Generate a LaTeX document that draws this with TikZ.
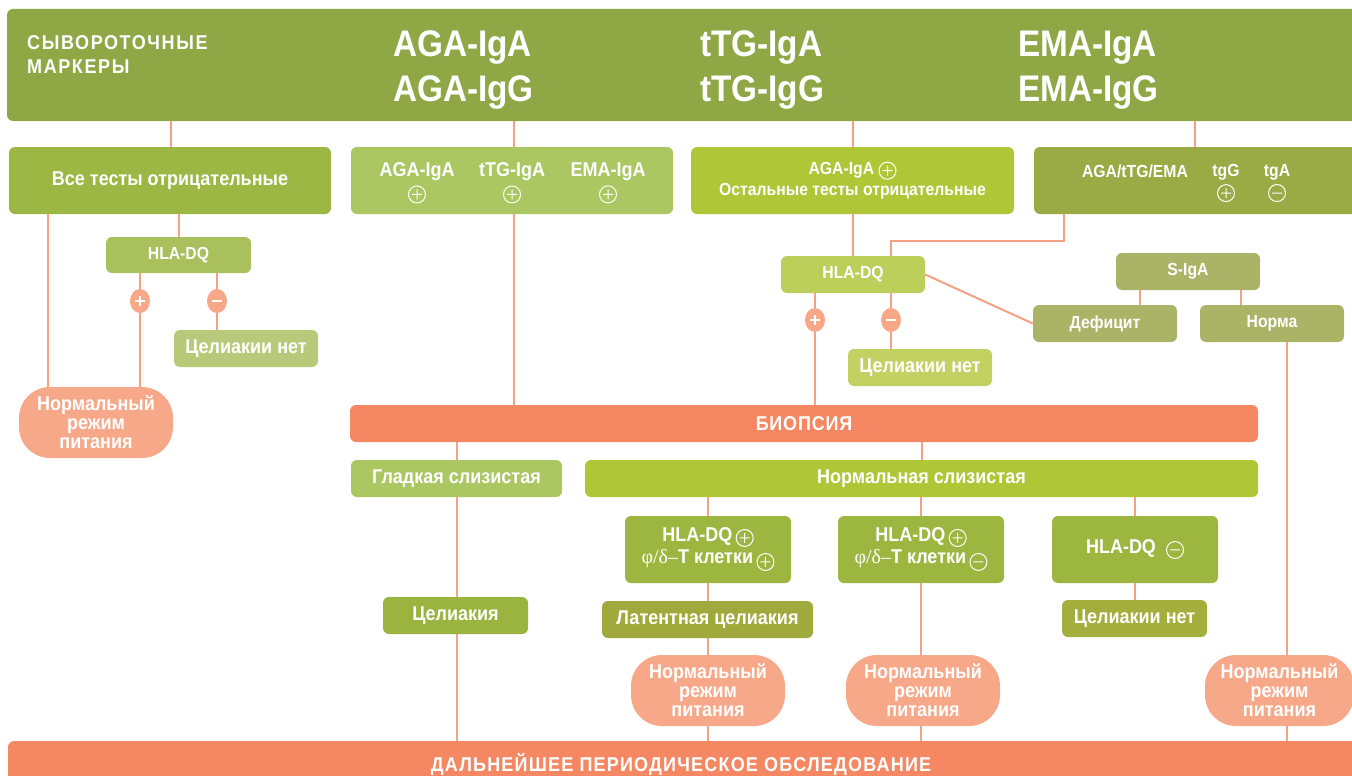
\documentclass[tikz,border=0pt]{standalone}
\usepackage{fontspec}
\setmainfont{Liberation Sans}[FakeStretch=0.9]
\newfontfamily\grserif{Liberation Serif}
\usetikzlibrary{shapes.geometric}
\pgfdeclarelayer{bg}
\pgfsetlayers{bg,main}
\definecolor{hdrC}{HTML}{8FA845}
\definecolor{bAllneg}{HTML}{9CB744}
\definecolor{bLight}{HTML}{AAC762}
\definecolor{bYel}{HTML}{AFC637}
\definecolor{bOlive}{HTML}{9AAA45}
\definecolor{hlaOne}{HTML}{A9C05D}
\definecolor{noOne}{HTML}{B7CA79}
\definecolor{hlaTwo}{HTML}{BCCF5B}
\definecolor{noTwo}{HTML}{C3D162}
\definecolor{sigaC}{HTML}{ABB466}
\definecolor{ovalC}{HTML}{F6A888}
\definecolor{lineC}{HTML}{F4A283}
\definecolor{bioC}{HTML}{F58862}
\definecolor{midC}{HTML}{9DB63F}
\definecolor{celC}{HTML}{9AB43F}
\definecolor{latC}{HTML}{A0AA3C}
\definecolor{noThree}{HTML}{A3AE3C}
\newcommand\fB{\fontsize{20}{23}\selectfont\bfseries}
\newcommand\fS{\fontsize{17.5}{22}\selectfont\bfseries}
\newcommand\cplus{\tikz[baseline=-4pt]{\draw[white,line width=1pt] (0pt,0pt) circle (8.5pt) (-5pt,0pt)--(5pt,0pt) (0pt,-5pt)--(0pt,5pt);}}
\newcommand\cminus{\tikz[baseline=-4pt]{\draw[white,line width=1pt] (0pt,0pt) circle (8.5pt) (-5pt,0pt)--(5pt,0pt);}}
\newcommand\splus{\tikz{\draw[white,line width=1.2pt] (-5pt,0pt)--(5pt,0pt) (0pt,-5pt)--(0pt,5pt);}}
\newcommand\sminus{\tikz{\draw[white,line width=2pt] (-5pt,0pt)--(5pt,0pt);}}
\newcommand\mkbox[8][]{\node[box,fill=#3,minimum width={#6-#4},minimum height={#7-#5},#1] (#2) at ({(#4+#6)/2},{(#5+#7)/2}) {#8};}
\newcommand\mkoval[5]{\node[oval,minimum width={#4-#2},minimum height={#5-#3}] (#1) at ({(#2+#4)/2},{(#3+#5)/2}) {Нормальный\\режим\\питания};}
\tikzset{
  box/.style={rectangle,rounded corners=6pt,inner sep=0pt,text=white,font=\fB,align=center},
  oval/.style={rectangle,rounded corners=31pt,fill=ovalC,inner sep=0pt,text=white,align=center,font=\fontsize{20}{19}\selectfont\bfseries},
  sign/.style={ellipse,fill=ovalC,inner sep=0pt,minimum width=20pt,minimum height=24pt},
  con/.style={draw=lineC,line width=2pt},
  htxt/.style={text=white,inner sep=0pt,anchor=base west,font=\fontsize{37}{40}\selectfont\bfseries},
  ltxt/.style={text=white,inner sep=0pt,align=center}
}
\begin{document}
\begin{tikzpicture}[x=1pt,y=-1pt]
\useasboundingbox (0,0) rectangle (1352,776);
\clip (0,0) rectangle (1352,776);
% header
\mkbox{hdr}{hdrC}{7}{9}{1365}{121}{}
\node[htxt,font=\fontsize{20}{24}\selectfont\bfseries\addfontfeature{LetterSpace=8}] (sm1) at (27,50) {СЫВОРОТОЧНЫЕ};
\node[htxt,font=\fontsize{20}{24}\selectfont\bfseries\addfontfeature{LetterSpace=8}] (sm2) at (27,74) {МАРКЕРЫ};
\node[htxt] (hA1) at (393,57) {AGA-IgA};
\node[htxt] (hA2) at (393,102) {AGA-IgG};
\node[htxt] (hT1) at (700,57) {tTG-IgA};
\node[htxt] (hT2) at (700,102) {tTG-IgG};
\node[htxt] (hE1) at (1018,57) {EMA-IgA};
\node[htxt] (hE2) at (1018,102) {EMA-IgG};
% first row
\mkbox{b1}{bAllneg}{9}{147}{331}{214}{Все тесты отрицательные}
\mkbox{b2}{bLight}{351}{147}{673}{214}{}
\node[ltxt,font=\fB] (b2a) at (417,183) {AGA-IgA\\[-1pt]\cplus};
\node[ltxt,font=\fB] (b2b) at (512,183) {tTG-IgA\\[-1pt]\cplus};
\node[ltxt,font=\fB] (b2c) at (608,183) {EMA-IgA\\[-1pt]\cplus};
\mkbox[font=\fS]{b3}{bYel}{691}{147}{1014}{214}{AGA-IgA \cplus\\[-1pt]Остальные тесты отрицательные}
\mkbox{b4}{bOlive}{1034}{147}{1365}{214}{}
\node[ltxt,font=\fS,anchor=base] (b4a) at (1135,177) {AGA/tTG/EMA};
\node[ltxt,font=\fS] (b4b) at (1226,183) {tgG\\[-1pt]\cplus};
\node[ltxt,font=\fS] (b4c) at (1277,183) {tgA\\[-1pt]\cminus};
% left branch
\mkbox[font=\fS]{hla1}{hlaOne}{106}{237}{251}{273}{HLA-DQ}
\node[sign] (p1) at (140,301) {\splus};
\node[sign] (m1) at (217,301) {\sminus};
\mkbox{no1}{noOne}{174}{330}{318}{367}{Целиакии нет}
\mkoval{ell1}{19}{387}{173}{458}
% right upper
\mkbox[font=\fS]{hla2}{hlaTwo}{781}{256}{925}{293}{HLA-DQ}
\node[sign] (p2) at (815,320) {\splus};
\node[sign] (m2) at (891,320) {\sminus};
\mkbox{no2}{noTwo}{848}{349}{992}{386}{Целиакии нет}
\mkbox[font=\fS]{siga}{sigaC}{1116}{253}{1260}{290}{S-IgA}
\mkbox[font=\fS]{def}{sigaC}{1033}{305}{1177}{342}{Дефицит}
\mkbox[font=\fS]{norm}{sigaC}{1200}{305}{1344}{342}{Норма}
\coordinate (k1) at (1064,241);
\coordinate (k2) at (891,241);
% biopsy
\mkbox[font=\fB\addfontfeature{LetterSpace=4}]{bio}{bioC}{350}{405}{1258}{442}{БИОПСИЯ}
\mkbox{smooth}{bLight}{351}{460}{562}{497}{Гладкая слизистая}
\mkbox{normuc}{bYel}{585}{460}{1258}{497}{Нормальная слизистая}
\mkbox{cel}{celC}{383}{597}{528}{634}{Целиакия}
\mkbox{bA}{midC}{625}{516}{791}{583}{HLA-DQ\,\cplus\\[-1pt]{\grserif\mdseries φ/δ–}T клетки\,\raisebox{-2pt}{\cplus}}
\mkbox{bB}{midC}{838}{516}{1004}{583}{HLA-DQ\,\cplus\\[-1pt]{\grserif\mdseries φ/δ–}T клетки\,\raisebox{-2pt}{\cminus}}
\mkbox{bC}{midC}{1052}{516}{1218}{583}{HLA-DQ \ \cminus}
\mkbox{lat}{latC}{602}{601}{813}{638}{Латентная целиакия}
\mkbox{no3}{noThree}{1062}{600}{1207}{637}{Целиакии нет}
\mkoval{ellA}{631}{655}{785}{726}
\mkoval{ellB}{846}{655}{1000}{726}
\mkoval{ellC}{1205}{655}{1354}{726}
% final
\mkbox{final}{bioC}{8}{741}{1365}{795}{}
\node[ltxt,anchor=base,font=\fB\addfontfeature{LetterSpace=6}] (fintxt) at (681,771) {ДАЛЬНЕЙШЕЕ ПЕРИОДИЧЕСКОЕ ОБСЛЕДОВАНИЕ};
% connectors
\begin{pgfonlayer}{bg}
\draw[con] (hdr -| 171,0) -- (b1 -| 171,0);
\draw[con] (hdr -| 514,0) -- (b2 -| 514,0) -- (bio -| 514,0);
\draw[con] (hdr -| 853,0) -- (b3 -| 853,0) -- (hla2 -| 853,0);
\draw[con] (hdr -| 1195,0) -- (b4 -| 1195,0);
\draw[con] (b4 -| k1) -- (k1) -- (k2) -- (hla2 -| k2);
\draw[con] (b1 -| 48,0) -- (ell1 -| 48,0);
\draw[con] (b1 -| 179,0) -- (hla1 -| 179,0);
\draw[con] (hla1 -| p1) -- (p1) -- (ell1 -| p1);
\draw[con] (hla1 -| m1) -- (m1) -- (no1 -| m1);
\draw[con] (hla2 -| p2) -- (p2) -- (bio -| p2);
\draw[con] (hla2 -| m2) -- (m2) -- (no2 -| m2);
\draw[con] (hla2.east) -- (def.west);
\draw[con] (siga -| 1140,0) -- (def -| 1140,0);
\draw[con] (siga -| 1241,0) -- (norm -| 1241,0);
\draw[con] (norm -| 1287,0) -- (ellC -| 1287,0) -- (final -| 1287,0);
\draw[con] (bio -| 457,0) -- (smooth -| 457,0) -- (cel -| 457,0) -- (final -| 457,0);
\draw[con] (bio -| 922,0) -- (normuc -| 922,0);
\draw[con] (normuc -| bA) -- (bA) -- (lat -| bA) -- (ellA -| bA) -- (final -| bA);
\draw[con] (normuc -| bB) -- (bB) -- (ellB -| bB) -- (final -| bB);
\draw[con] (normuc -| bC) -- (bC) -- (no3 -| bC);
\end{pgfonlayer}
\end{tikzpicture}
\end{document}
